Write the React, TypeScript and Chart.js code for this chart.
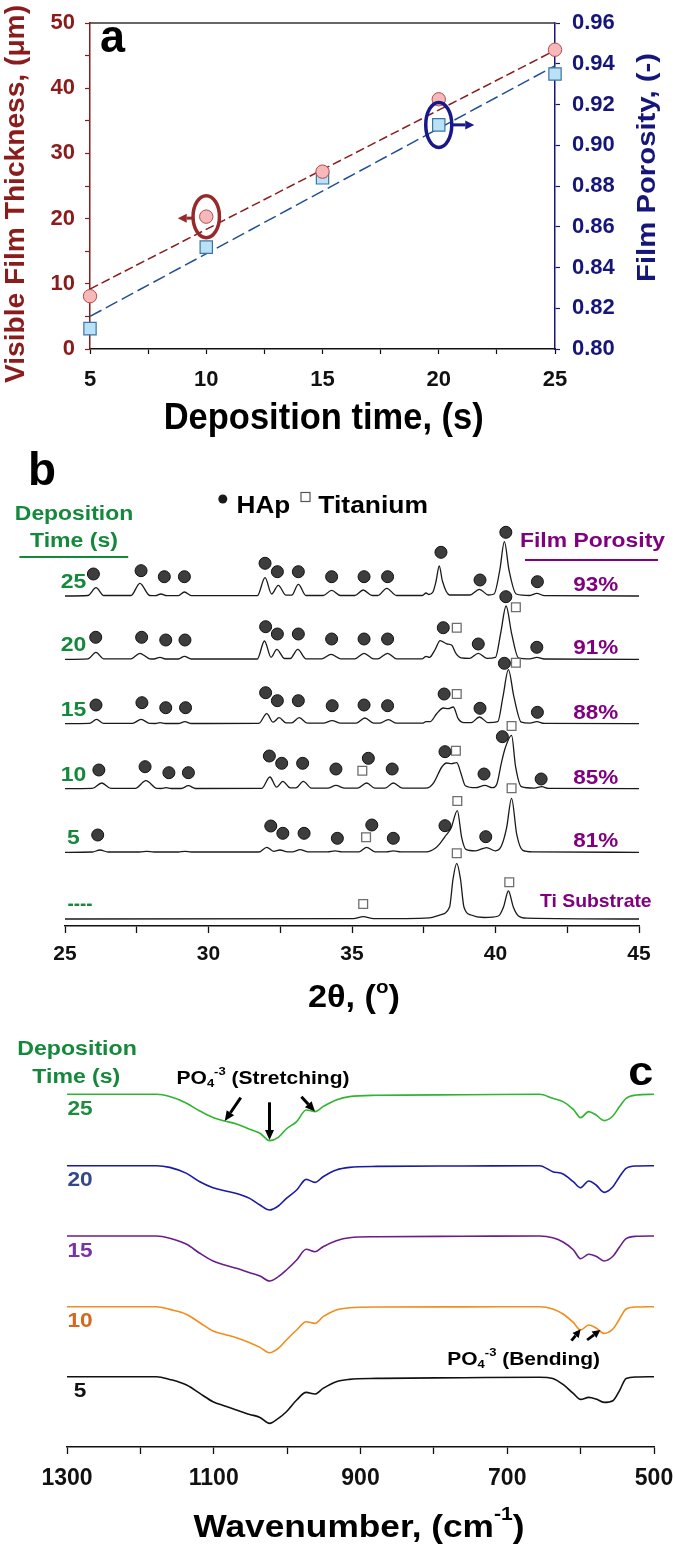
import React, { useEffect, useRef } from 'react';
import { Chart, registerables } from 'chart.js';

Chart.register(...registerables);

const FONT = "'Liberation Sans', Arial, Helvetica, sans-serif";

// ---------------- Panel a data ----------------
const depositionTime = [5, 10, 15, 20, 25];
const filmThickness = [8.1, 20.3, 27.2, 38.3, 45.9];
const filmPorosity = [0.81, 0.85, 0.884, 0.91, 0.935];
const fitTime = [5, 25];
const thicknessFit = [9.2, 45.8];
const porosityFit = [0.816, 0.939];
const timeTicks = [5, 7.5, 10, 12.5, 15, 17.5, 20, 22.5, 25];
const timeTickLabels = [5, 10, 15, 20, 25];
const thicknessTicks = [0, 5, 10, 15, 20, 25, 30, 35, 40, 45, 50];
const thicknessTickLabels = [0, 10, 20, 30, 40, 50];
const porosityTicks = [0.8, 0.81, 0.82, 0.83, 0.84, 0.85, 0.86, 0.87, 0.88, 0.89, 0.9, 0.91, 0.92, 0.93, 0.94, 0.95, 0.96];
const porosityTickLabels = ['0.80', '0.82', '0.84', '0.86', '0.88', '0.90', '0.92', '0.94', '0.96'];

// ---------------- Panel b data (XRD) ----------------
type Pt = [number, number];
const twoThetaTicks = [25, 27.5, 30, 32.5, 35, 37.5, 40, 42.5, 45];
const twoThetaTickLabels = [25, 30, 35, 40, 45];
const xrdTimeLabels = ['25', '20', '15', '10', '5', '----'];
const xrdPorosityLabels = ['93%', '91%', '88%', '85%', '81%', 'Ti Substrate'];
const xrdOffsets = [330, 266.7, 202.3, 137.3, 73.7, 7];

const xrd25: Pt[] = [[25,0],[25.8,0.5],[26.08,8.3],[26.35,0.5],[27.3,0.5],[27.61,12.7],[27.95,0.5],[28.15,0.3],[28.34,2],[28.55,0.3],[28.95,0.3],[29.16,4],[29.4,0.3],[31.7,0.3],[31.97,18.3],[32.2,2],[32.43,10.7],[32.7,0.8],[32.9,0.8],[33.13,11.7],[33.4,0.5],[34.0,0.5],[34.29,5.7],[34.6,0.5],[35.1,0.5],[35.39,6],[35.7,0.5],[35.9,0.5],[36.21,7.7],[36.55,0.5],[37.45,0.5],[37.58,3],[37.68,1.5],[37.82,4],[37.93,15],[38.04,30],[38.15,15],[38.4,1],[39.1,1],[39.44,6.7],[39.75,1],[39.95,2],[40.15,26],[40.31,54.3],[40.47,26],[40.72,2],[41.2,0.5],[41.44,2.7],[41.7,0.3],[45,0]];
const xrd20: Pt[] = [[25,0],[25.8,0.5],[26.08,7],[26.35,0.5],[27.3,0.5],[27.61,6],[27.95,0.5],[28.1,0.3],[28.31,2],[28.5,0.3],[28.95,0.3],[29.16,3],[29.4,0.3],[31.7,0.3],[31.95,18.3],[32.18,2],[32.38,10],[32.65,0.8],[32.85,0.8],[33.11,10],[33.4,0.5],[33.95,0.5],[34.27,5],[34.6,0.5],[35.1,0.5],[35.42,6],[35.75,0.5],[35.9,0.5],[36.24,6],[36.55,0.5],[37.45,0.5],[37.58,3],[37.7,2],[37.9,10],[38.07,18.7],[38.3,15.5],[38.47,14.3],[38.62,6],[38.8,1.5],[39.1,1],[39.4,6],[39.7,1],[40.0,2],[40.18,26],[40.37,53.3],[40.56,26],[40.8,1.5],[41.2,0.5],[41.44,2],[41.7,0.3],[45,0]];
const xrd15: Pt[] = [[25,0],[25.85,0.3],[26.1,4.3],[26.35,0.3],[27.35,0.3],[27.65,4.3],[27.95,0.3],[28.15,0.2],[28.31,1],[28.5,0.2],[28.95,0.2],[29.18,2],[29.4,0.2],[31.75,0.3],[32.03,10],[32.25,1.5],[32.46,6],[32.7,0.8],[32.9,0.8],[33.16,6],[33.45,0.5],[34.0,0.5],[34.31,3],[34.6,0.5],[35.15,0.5],[35.45,5.7],[35.75,0.5],[35.95,0.5],[36.27,4],[36.55,0.5],[37.45,0.5],[37.58,2],[37.72,2],[37.95,10],[38.18,15.7],[38.35,15],[38.53,16.7],[38.7,5],[38.9,1],[39.15,1],[39.44,6.7],[39.75,1],[40.08,2],[40.26,27],[40.45,54],[40.64,27],[40.9,1.5],[41.2,0.5],[41.44,2],[41.7,0.3],[45,0]];
const xrd10: Pt[] = [[25,0],[25.95,0.3],[26.28,5.7],[26.6,0.3],[27.45,0.3],[27.82,8],[28.2,0.3],[28.35,0.2],[28.52,1],[28.7,0.2],[29.05,0.2],[29.3,3],[29.55,0.2],[31.85,0.3],[32.14,11.7],[32.37,1.5],[32.59,7.3],[32.85,0.8],[33.05,0.8],[33.3,7.3],[33.6,0.5],[34.15,0.5],[34.44,3.3],[34.75,0.5],[35.2,0.5],[35.51,5.7],[35.8,0.5],[36.15,0.5],[36.44,5.7],[36.75,0.5],[37.55,0.5],[37.72,2],[37.85,6],[38.13,21.7],[38.3,25.7],[38.47,25],[38.65,26],[38.8,15],[38.95,3],[39.3,1],[39.63,3.3],[39.9,1],[40.05,5],[40.2,25],[40.33,40],[40.56,53.3],[40.7,22],[40.9,2],[41.35,0.5],[41.61,2],[41.85,0.3],[45,0]];
const xrd5: Pt[] = [[25,0],[25.95,0.3],[26.22,2.3],[26.5,0.3],[27.6,0.3],[27.85,1],[28.1,0.3],[28.95,0.3],[29.18,1],[29.4,0.3],[31.75,0.3],[32.03,5],[32.27,1],[32.49,2.3],[32.75,0.5],[32.95,0.5],[33.19,2.7],[33.45,0.5],[34.15,0.5],[34.41,1.5],[34.65,0.5],[35.25,0.5],[35.51,5],[35.8,0.5],[36.2,0.5],[36.44,1.5],[36.7,0.5],[37.6,0.5],[37.9,4],[38.07,9],[38.24,15.7],[38.45,24],[38.67,41.7],[38.82,15],[38.97,3],[39.3,1.5],[39.69,4.7],[40.0,1.5],[40.2,6],[40.39,25],[40.56,54],[40.74,18],[40.95,2],[41.3,0.5],[45,0]];
const xrdTi: Pt[] = [[25,0],[35.05,0.3],[35.39,2.3],[35.75,0.3],[37.7,1.2],[38.05,4],[38.4,12],[38.52,40],[38.65,55.7],[38.78,40],[38.9,12],[39.15,4],[39.6,1.5],[40.1,3],[40.28,12],[40.45,28],[40.62,12],[40.8,3],[41.1,0.8],[45,0]];

// marker positions [2θ, height above the trace baseline]
const hap25: Pt[] = [[25.99,22],[27.65,25.3],[28.46,19.3],[29.16,19.3],[31.97,32.7],[32.4,24.3],[33.13,24.3],[34.29,19.3],[35.42,19.3],[36.24,19.3],[38.1,43.7],[39.46,16],[40.36,63.7],[41.46,14.3]];
const hap20: Pt[] = [[26.07,22],[27.67,22],[28.51,19.3],[29.18,19.3],[31.99,32.6],[32.4,25.3],[33.13,25.3],[34.29,20.3],[35.42,20.3],[36.24,20.3],[38.18,31.6],[39.4,15.3],[40.36,62.6],[41.44,12]];
const hap15: Pt[] = [[26.08,18.7],[27.68,21],[28.51,16],[29.2,16],[31.99,31],[32.4,23],[33.13,23],[34.31,18],[35.42,18.7],[36.24,18],[38.21,29.7],[39.46,15.4],[40.31,60.4],[41.46,11.4]];
const hap10: Pt[] = [[26.18,18.7],[27.79,22],[28.62,16],[29.3,16],[32.12,32.7],[32.55,25.4],[33.28,25.4],[34.44,19.7],[35.57,30.4],[36.4,19.7],[38.24,37],[39.6,14.7],[40.24,52],[41.59,9.7]];
const hap5: Pt[] = [[26.14,17.3],[32.17,26.3],[32.59,19],[33.33,19],[34.49,14],[35.69,27.3],[36.44,14],[38.24,26.6],[39.66,15.6]];
const hapTi: Pt[] = [];
const ti25: Pt[] = [];
const ti20: Pt[] = [[38.65,31.6],[40.71,52]];
const ti15: Pt[] = [[38.65,29.7],[40.71,61]];
const ti10: Pt[] = [[35.36,18],[38.62,38],[40.56,62.7]];
const ti5: Pt[] = [[35.49,15],[38.67,51.3],[40.56,64]];
const tiTi: Pt[] = [[35.39,15],[38.65,65.7],[40.48,36.7]];

// ---------------- Panel c data (FTIR) ----------------
const wavenumberTicks = [1300, 1200, 1100, 1000, 900, 800, 700, 600, 500];
const wavenumberTickLabels = [1300, 1100, 900, 700, 500];
const ftirLabels = ['25', '20', '15', '10', '5'];
const ftirOffsets = [352.7, 281.3, 211, 140.3, 70.3];
const wavenumbers = [1300, 1178, 1160, 1137, 1119, 1101, 1085, 1069, 1051, 1037, 1024, 1012, 1001, 987, 974, 962, 951, 933, 915, 878, 760, 656, 638, 624, 610, 600, 589, 579, 568, 556, 547, 538, 524, 500];
// absorption depth below each trace's baseline
const ftir25 = [0,0,2.3,9,16.7,23.3,26.7,29.7,35,39,46.3,43,34.7,27.3,15.7,17.3,12.3,5.7,2.3,1,0.5,0,4,7.3,15,23.3,17.3,20.7,26.3,21.7,12.3,4,0.7,0];
const ftir20 = [0,0,1.7,7.7,16,22,25,27.7,32.7,39.3,44.3,40.3,32.7,24.3,13.7,16.7,11,4.3,1.7,0.7,0.3,0,6,8.3,16,22,15.3,19.3,26.7,21,11,2.7,0.3,0];
const ftir15 = [0,0,2.3,8.3,17.3,25,29,32.3,36.7,40,45,40.7,34,24,13.3,15.7,10.7,4.7,1.7,0.7,0.3,0,1.7,6,13.7,22.7,18.3,20.3,25,20.3,11,2.7,0.3,0];
const ftir10 = [0,0,2.7,7.7,16,24.3,27.7,31,36,40.7,46,41.7,33.3,23.3,15,16.7,10,3.3,1,0.3,0.2,0,2.3,7.3,15.7,23.3,18.3,21.3,26.7,22.3,12.3,2.3,0.3,0];
const ftir5 = [0,0,2.7,8.3,16.7,25,29.3,33.3,37.7,40.7,46.7,41.7,35,23.3,15.7,17.3,11.7,5,2.7,1.7,1,0.5,1.7,7.7,16.7,22.7,20.7,22.3,25.7,24,14,1.7,0.3,0];

// ---------------- styles ----------------
const DARKRED = '#8a1c1c';
const NAVY = '#16167a';
const GREEN_TXT = '#15893b';
const PURPLE_TXT = '#800080';
const ftirColors = ['#2fb52f', '#1a1aa6', '#6a1e88', '#f28c1c', '#111111'];
const ftirLabelColors = ['#1e8c3e', '#33478a', '#7a33a6', '#d2691e', '#111111'];

type Part = { t: string; k?: number; dy?: number };
function rich(ctx: any, parts: Part[], x: number, y: number, size: number, color: string, o: any = {}) {
  ctx.save();
  ctx.fillStyle = color;
  ctx.textBaseline = 'alphabetic';
  ctx.textAlign = 'left';
  let total = 0;
  const ws = parts.map((p) => {
    ctx.font = `bold ${size * (p.k ?? 1)}px ${FONT}`;
    const w = ctx.measureText(p.t).width;
    total += w;
    return w;
  });
  const sx = o.width ? o.width / total : o.sx ?? 1;
  ctx.translate(x, y);
  if (o.rot) ctx.rotate(o.rot);
  ctx.scale(sx, 1);
  let cx = o.align === 'center' ? -total / 2 : o.align === 'right' ? -total : 0;
  parts.forEach((p, i) => {
    ctx.font = `bold ${size * (p.k ?? 1)}px ${FONT}`;
    ctx.fillText(p.t, cx, (p.dy ?? 0) * size);
    cx += ws[i];
  });
  ctx.restore();
}
function txt(ctx: any, t: string, x: number, y: number, size: number, color: string, o: any = {}) {
  rich(ctx, [{ t }], x, y, size, color, o);
}
function hline(ctx: any, x1: number, x2: number, y: number, color: string, lw: number) {
  ctx.save();
  ctx.strokeStyle = color;
  ctx.lineWidth = lw;
  ctx.beginPath();
  ctx.moveTo(x1, y);
  ctx.lineTo(x2, y);
  ctx.stroke();
  ctx.restore();
}
function arrow(ctx: any, x1: number, y1: number, x2: number, y2: number, color: string, lw: number, hl: number, hw: number) {
  const a = Math.atan2(y2 - y1, x2 - x1);
  const bx = x2 - hl * Math.cos(a);
  const by = y2 - hl * Math.sin(a);
  ctx.save();
  ctx.strokeStyle = color;
  ctx.fillStyle = color;
  ctx.lineWidth = lw;
  ctx.beginPath();
  ctx.moveTo(x1, y1);
  ctx.lineTo(bx, by);
  ctx.stroke();
  ctx.beginPath();
  ctx.moveTo(x2, y2);
  ctx.lineTo(bx + (hw / 2) * Math.sin(a), by - (hw / 2) * Math.cos(a));
  ctx.lineTo(bx - (hw / 2) * Math.sin(a), by + (hw / 2) * Math.cos(a));
  ctx.closePath();
  ctx.fill();
  ctx.restore();
}
function ellipse(ctx: any, cx: number, cy: number, rx: number, ry: number, color: string, lw: number) {
  ctx.save();
  ctx.strokeStyle = color;
  ctx.lineWidth = lw;
  ctx.beginPath();
  ctx.ellipse(cx, cy, rx, ry, 0, 0, Math.PI * 2);
  ctx.stroke();
  ctx.restore();
}
const tickFont = (size: number) => ({ family: FONT, size, weight: 'bold' as const, lineHeight: 1 });

// ---------------- Panel a ----------------
function PanelA() {
  const ref = useRef<HTMLCanvasElement>(null);
  useEffect(() => {
    const decor = {
      id: 'decorA',
      afterDraw(chart: any) {
        const { ctx, chartArea, scales } = chart;
        const xs = scales.x, ys = scales.y, y2 = scales.y2;
        hline(ctx, chartArea.left, chartArea.right, chartArea.top, '#333333', 1.5);
        const px = xs.getPixelForValue(depositionTime[1]);
        const py = ys.getPixelForValue(filmThickness[1]);
        ellipse(ctx, px, py, 13.2, 21, '#962a2a', 3.5);
        arrow(ctx, px - 13, py + 1.5, px - 28.5, py + 1.5, '#962a2a', 3, 9, 9);
        const bx = xs.getPixelForValue(depositionTime[3]);
        const by = y2.getPixelForValue(filmPorosity[3]);
        ellipse(ctx, bx, by, 13, 22.5, '#18188c', 3.5);
        arrow(ctx, bx + 12.5, by, bx + 35.5, by, '#18188c', 3, 9, 9);
        txt(ctx, 'a', 100, 52, 46, '#000', { width: 25 });
        txt(ctx, 'Visible Film Thickness, (μm)', 24, 194, 28, DARKRED, { width: 378, align: 'center', rot: -Math.PI / 2 });
        txt(ctx, 'Film Porosity, (-)', 654.5, 167.5, 26, NAVY, { width: 229, align: 'center', rot: -Math.PI / 2 });
        txt(ctx, 'Deposition time, (s)', 323.7, 429, 36, '#000', { width: 320, align: 'center' });
      },
    };
    const chart = new Chart(ref.current as HTMLCanvasElement, {
      type: 'line',
      data: {
        datasets: [
          {
            label: 'Visible Film Thickness',
            data: depositionTime.map((t, i) => ({ x: t, y: filmThickness[i] })),
            yAxisID: 'y', showLine: false, clip: false as any,
            pointStyle: 'circle', pointRadius: 6.7,
            pointBackgroundColor: '#f6b8b8', pointBorderColor: '#b34a4a', pointBorderWidth: 1,
          },
          {
            label: 'Film Porosity',
            data: depositionTime.map((t, i) => ({ x: t, y: filmPorosity[i] })),
            yAxisID: 'y2', showLine: false, clip: false as any,
            pointStyle: 'rect', pointRadius: 8.7,
            pointBackgroundColor: '#b9e1f7', pointBorderColor: '#3d74a6', pointBorderWidth: 1.2,
          },
          {
            label: 'Thickness fit',
            data: fitTime.map((t, i) => ({ x: t, y: thicknessFit[i] })),
            yAxisID: 'y', borderColor: DARKRED, borderWidth: 1.5, borderDash: [9, 4], pointRadius: 0,
          },
          {
            label: 'Porosity fit',
            data: fitTime.map((t, i) => ({ x: t, y: porosityFit[i] })),
            yAxisID: 'y2', borderColor: '#1f4f96', borderWidth: 1.5, borderDash: [13, 5], pointRadius: 0,
          },
        ],
      },
      options: {
        animation: false, responsive: true, maintainAspectRatio: false, devicePixelRatio: 1,
        layout: { padding: { top: 15, left: 0, right: 0, bottom: 0 } },
        plugins: { legend: { display: false }, tooltip: { enabled: false } },
        scales: {
          x: {
            type: 'linear', min: 5, max: 25,
            afterBuildTicks: (s: any) => { s.ticks = timeTicks.map((v) => ({ value: v })); },
            ticks: { autoSkip: false, maxRotation: 0, color: '#111', font: tickFont(22), padding: 15,
              callback: (v: any) => (timeTickLabels.includes(Number(v)) ? String(v) : '') },
            grid: { drawOnChartArea: false, tickLength: 5, color: '#111', tickWidth: 1.2 },
            border: { display: true, color: '#111', width: 1.5 },
            afterFit: (s: any) => { s.height = 91; s.paddingLeft = 0; s.paddingRight = 0; },
          },
          y: {
            type: 'linear', position: 'left', min: 0, max: 50,
            afterBuildTicks: (s: any) => { s.ticks = thicknessTicks.map((v) => ({ value: v })); },
            ticks: { color: DARKRED, font: tickFont(22), padding: 10,
              callback: (v: any) => (thicknessTickLabels.includes(Number(v)) ? String(v) : '') },
            grid: { drawOnChartArea: false, tickLength: 5, color: DARKRED, tickWidth: 1.2 },
            border: { display: true, color: DARKRED, width: 1.5 },
            afterFit: (s: any) => { s.width = 90; },
          },
          y2: {
            type: 'linear', position: 'right', min: 0.8, max: 0.96,
            afterBuildTicks: (s: any) => { s.ticks = porosityTicks.map((v) => ({ value: v })); },
            ticks: { color: NAVY, font: tickFont(22), padding: 12,
              callback: (v: any) => { const l = Number(v).toFixed(2); return porosityTickLabels.includes(l) ? l : ''; } },
            grid: { drawOnChartArea: false, tickLength: 5, color: NAVY, tickWidth: 1.2 },
            border: { display: true, color: NAVY, width: 1.5 },
            afterFit: (s: any) => { s.width = 120; },
          },
        },
      } as any,
      plugins: [decor],
    });
    return () => chart.destroy();
  }, []);
  return <canvas ref={ref} />;
}

// ---------------- Panel b ----------------
function PanelB() {
  const ref = useRef<HTMLCanvasElement>(null);
  useEffect(() => {
    const traces = [xrd25, xrd20, xrd15, xrd10, xrd5, xrdTi];
    const haps = [hap25, hap20, hap15, hap10, hap5, hapTi];
    const tis = [ti25, ti20, ti15, ti10, ti5, tiTi];
    const datasets: any[] = [];
    haps.forEach((m, i) => datasets.push({
      label: `HAp ${xrdTimeLabels[i]}`, data: m.map(([t, h]) => ({ x: t, y: xrdOffsets[i] + h })),
      showLine: false, clip: false, pointStyle: 'circle', pointRadius: 6,
      pointBackgroundColor: '#3d3d3d', pointBorderColor: '#111', pointBorderWidth: 1,
    }));
    tis.forEach((m, i) => datasets.push({
      label: `Titanium ${xrdTimeLabels[i]}`, data: m.map(([t, h]) => ({ x: t, y: xrdOffsets[i] + h })),
      showLine: false, clip: false, pointStyle: 'rect', pointRadius: 6.2,
      pointBackgroundColor: '#ffffff', pointBorderColor: '#6e6e6e', pointBorderWidth: 1.3,
    }));
    traces.forEach((tr, i) => datasets.push({
      label: `XRD ${xrdTimeLabels[i]}`, data: tr.map(([t, h]) => ({ x: t, y: xrdOffsets[i] + h })),
      borderColor: '#1a1a1a', borderWidth: 1.3, pointRadius: 0, cubicInterpolationMode: 'monotone',
    }));
    const T = 440;
    const decor = {
      id: 'decorB',
      afterDraw(chart: any) {
        const { ctx, scales } = chart;
        const ys = scales.y;
        txt(ctx, 'b', 28, 485 - T, 46, '#000', { width: 28 });
        ctx.save();
        ctx.fillStyle = '#1a1a1a';
        ctx.beginPath();
        ctx.arc(222.8, 499 - T, 4.5, 0, Math.PI * 2);
        ctx.fill();
        ctx.strokeStyle = '#555';
        ctx.lineWidth = 1.2;
        ctx.strokeRect(301, 492.5 - T, 9, 9);
        ctx.restore();
        txt(ctx, 'HAp', 236.6, 513 - T, 24, '#000', { width: 53.7 });
        txt(ctx, 'Titanium', 318.3, 513 - T, 24, '#000', { width: 109.7 });
        txt(ctx, 'Deposition', 74, 520 - T, 20, GREEN_TXT, { width: 118.3, align: 'center' });
        txt(ctx, 'Time (s)', 74, 546.7 - T, 20, GREEN_TXT, { width: 88, align: 'center' });
        hline(ctx, 19.4, 128.2, 557 - T, GREEN_TXT, 2);
        txt(ctx, 'Film Porosity', 592.5, 546.7 - T, 20, PURPLE_TXT, { width: 145, align: 'center' });
        hline(ctx, 525, 658, 560 - T, PURPLE_TXT, 2);
        xrdTimeLabels.forEach((lab, i) => {
          const yb = ys.getPixelForValue(xrdOffsets[i]);
          if (lab === '----') txt(ctx, lab, 80, yb - 9.5, 20, GREEN_TXT, { align: 'center', width: 25 });
          else txt(ctx, lab, 73.5, yb - 8, 20, GREEN_TXT, { align: 'center', sx: 1.15 });
        });
        xrdPorosityLabels.forEach((lab, i) => {
          const yb = ys.getPixelForValue(xrdOffsets[i]);
          if (i === xrdPorosityLabels.length - 1) txt(ctx, lab, 595.8, yb - 12.3, 19, PURPLE_TXT, { align: 'center', width: 111.7 });
          else txt(ctx, lab, 595.8, yb - 5, 21, PURPLE_TXT, { align: 'center', sx: 1.07 });
        });
        rich(ctx, [{ t: '2θ, (' }, { t: 'o', k: 0.6, dy: -0.45 }, { t: ')' }], 353.9, 1007 - T, 31, '#000', { align: 'center', width: 92 });
      },
    };
    const chart = new Chart(ref.current as HTMLCanvasElement, {
      type: 'line',
      data: { datasets },
      options: {
        animation: false, responsive: true, maintainAspectRatio: false, devicePixelRatio: 1,
        layout: { padding: { top: 40, left: 65, right: 36, bottom: 0 } },
        plugins: { legend: { display: false }, tooltip: { enabled: false } },
        scales: {
          x: {
            type: 'linear', min: 25, max: 45,
            afterBuildTicks: (s: any) => { s.ticks = twoThetaTicks.map((v) => ({ value: v })); },
            ticks: { autoSkip: false, maxRotation: 0, color: '#111', font: tickFont(21), padding: 11,
              callback: (v: any) => (twoThetaTickLabels.includes(Number(v)) ? String(v) : '') },
            grid: { drawOnChartArea: false, tickLength: 7, color: '#111', tickWidth: 1.3 },
            border: { display: true, color: '#111', width: 1.5 },
            afterFit: (s: any) => { s.height = 104; s.paddingLeft = 0; s.paddingRight = 0; },
          },
          y: { type: 'linear', display: false, min: 0, max: 446 },
        },
      } as any,
      plugins: [decor],
    });
    return () => chart.destroy();
  }, []);
  return <canvas ref={ref} />;
}

// ---------------- Panel c ----------------
function PanelC() {
  const ref = useRef<HTMLCanvasElement>(null);
  useEffect(() => {
    const series = [ftir25, ftir20, ftir15, ftir10, ftir5];
    const datasets = series.map((s, i) => ({
      label: `FTIR ${ftirLabels[i]} s`,
      data: wavenumbers.map((w, j) => ({ x: w, y: ftirOffsets[i] - s[j] })),
      borderColor: ftirColors[i], borderWidth: 1.6, pointRadius: 0, cubicInterpolationMode: 'monotone',
    }));
    const T = 1030;
    const decor = {
      id: 'decorC',
      afterDraw(chart: any) {
        const { ctx, scales } = chart;
        const xs = scales.x, ys = scales.y;
        const ax = (j: number) => xs.getPixelForValue(wavenumbers[j]);
        const ay = (i: number, j: number) => ys.getPixelForValue(ftirOffsets[i] - series[i][j]);
        txt(ctx, 'Deposition', 77, 1055 - T, 20, GREEN_TXT, { width: 119.6, align: 'center' });
        txt(ctx, 'Time (s)', 76.3, 1082.7 - T, 20, GREEN_TXT, { width: 88, align: 'center' });
        txt(ctx, 'c', 628.3, 1085 - T, 40, '#000', { width: 25 });
        ftirLabels.forEach((lab, i) => {
          txt(ctx, lab, 80, ys.getPixelForValue(ftirOffsets[i]) + 20.5, 21, ftirLabelColors[i], { align: 'center', sx: 1.08 });
        });
        rich(ctx, [{ t: 'PO' }, { t: '4', k: 0.62, dy: 0.16 }, { t: '-3', k: 0.62, dy: -0.5 }, { t: ' (Stretching)' }], 176.5, 1084 - T, 19, '#000', { width: 173 });
        rich(ctx, [{ t: 'PO' }, { t: '4', k: 0.62, dy: 0.16 }, { t: '-3', k: 0.62, dy: -0.5 }, { t: ' (Bending)' }], 447.3, 1365 - T, 19, '#000', { width: 152.7 });
        // stretching arrows on the 25 s trace
        let x0 = ax(6), y0 = ay(0, 6);
        arrow(ctx, x0 + 16, y0 - 23.3, x0, y0, '#000', 3, 10, 9);
        x0 = ax(10); y0 = ay(0, 10);
        arrow(ctx, x0, y0 - 38.3, x0, y0 - 0.6, '#000', 3, 10, 9);
        x0 = ax(15); y0 = ay(0, 15);
        arrow(ctx, x0 - 13.6, y0 - 14.9, x0, y0, '#000', 3, 10, 9);
        // bending arrows on the 10 s trace
        x0 = ax(25); y0 = ay(3, 25);
        arrow(ctx, x0 - 9.2, y0 + 10.7, x0, y0 - 0.7, '#000', 2.8, 8, 8);
        x0 = ax(28); y0 = ay(3, 28);
        arrow(ctx, x0 - 17, y0 + 6.6, x0 - 3.7, y0 - 3.4, '#000', 2.8, 8, 8);
        rich(ctx, [{ t: 'Wavenumber, (cm' }, { t: '-1', k: 0.6, dy: -0.55 }, { t: ')' }], 193.5, 1536.7 - T, 31, '#000', { width: 331 });
      },
    };
    const chart = new Chart(ref.current as HTMLCanvasElement, {
      type: 'line',
      data: { datasets },
      options: {
        animation: false, responsive: true, maintainAspectRatio: false, devicePixelRatio: 1,
        layout: { padding: { top: 20, left: 67, right: 21, bottom: 0 } },
        plugins: { legend: { display: false }, tooltip: { enabled: false } },
        scales: {
          x: {
            type: 'linear', min: 500, max: 1300, reverse: true,
            afterBuildTicks: (s: any) => { s.ticks = wavenumberTicks.map((v) => ({ value: v })); },
            ticks: { autoSkip: false, maxRotation: 0, color: '#111', font: tickFont(23), padding: 13,
              callback: (v: any) => (wavenumberTickLabels.includes(Number(v)) ? String(v) : '') },
            grid: { drawOnChartArea: false, tickLength: 7, color: '#111', tickWidth: 1.3 },
            border: { display: true, color: '#111', width: 1.5 },
            afterFit: (s: any) => { s.height = 101; s.paddingLeft = 0; s.paddingRight = 0; },
          },
          y: { type: 'linear', display: false, min: 0, max: 397 },
        },
      } as any,
      plugins: [decor],
    });
    return () => chart.destroy();
  }, []);
  return <canvas ref={ref} />;
}

export default function App() {
  return (
    <div style={{ position: 'relative', width: 675, height: 1548, background: '#fff', overflow: 'hidden' }}>
      <style>{'html,body{margin:0;padding:0;background:#fff;}'}</style>
      <div style={{ position: 'absolute', left: 0, top: 0, width: 675, height: 440 }}>
        <PanelA />
      </div>
      <div style={{ position: 'absolute', left: 0, top: 440, width: 675, height: 590 }}>
        <PanelB />
      </div>
      <div style={{ position: 'absolute', left: 0, top: 1030, width: 675, height: 518 }}>
        <PanelC />
      </div>
    </div>
  );
}
